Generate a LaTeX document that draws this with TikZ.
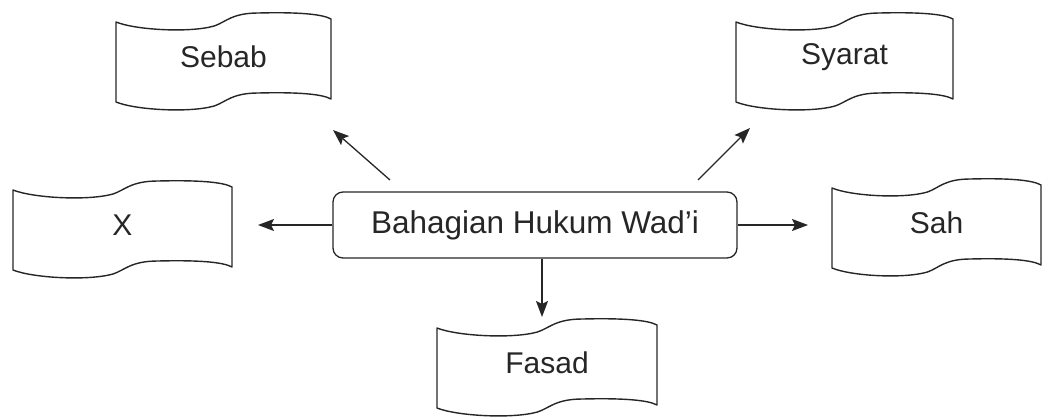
\documentclass[tikz,border=0pt]{standalone}
\usepackage{fontspec}
\setmainfont{Liberation Sans}
\usetikzlibrary{arrows.meta,calc}
\tikzset{
  flagline/.style={line width=1.4pt, draw=black!85, line join=round},
  flagtext/.style={inner sep=0pt, font=\fontsize{30}{36}\selectfont, text=black!85},
  mainbox/.style={draw=black!85, line width=1.3pt, rounded corners=10pt, minimum width=404pt, minimum height=66pt, inner sep=0pt, font=\fontsize{31.5}{37}\selectfont, text=black!85},
  conn/.style={line width=1.3pt, draw=black!85, -{Stealth[length=16pt,width=12pt,inset=3pt]}}
}
\newcommand\wavyflag[5]{%
  \begin{scope}[shift={(#2,#3)}, xscale=#4/219]
    \draw[flagline] (0,0) .. controls (20,8) and (75,11) .. (100,4)
      .. controls (112,0) and (118,-9) .. (145,-9)
      .. controls (185,-10) and (210,-8) .. (219,-3) -- (219,77)
      .. controls (210,72) and (185,70) .. (145,71)
      .. controls (118,71) and (112,80) .. (100,84)
      .. controls (75,91) and (20,88) .. (0,80) -- cycle;
  \end{scope}
  \node[flagtext] (#1) at ({#2+#4/2},{#3+35}) {#5};
}
\begin{document}
\begin{tikzpicture}[x=1pt,y=-1pt]
  \useasboundingbox (0,0) rectangle (1043,418);
  \wavyflag{sebab}{116}{22}{215}{Sebab}
  \wavyflag{syarat}{736}{22}{217}{Syarat}
  \wavyflag{x}{13}{190}{219}{X}
  \wavyflag{sah}{832}{188}{209}{Sah}
  \wavyflag{fasad}{437}{328}{220}{Fasad}
  \node[mainbox] (c) at (535,225) {Bahagian Hukum Wad’i};
  \coordinate (tipX) at (258,225);
  \coordinate (tipSah) at (808,225);
  \coordinate (tipFasad) at (542,317);
  \coordinate (tailSebab) at (390,180);
  \coordinate (tipSebab) at (333,130);
  \coordinate (tailSyarat) at (698,180);
  \coordinate (tipSyarat) at (750,128);
  \draw[conn] (c.west) -- (tipX);
  \draw[conn] (c.east) -- (tipSah);
  \draw[conn] (c.south -| tipFasad) -- (tipFasad);
  \draw[conn] (tailSebab) -- (tipSebab);
  \draw[conn] (tailSyarat) -- (tipSyarat);
\end{tikzpicture}
\end{document}
